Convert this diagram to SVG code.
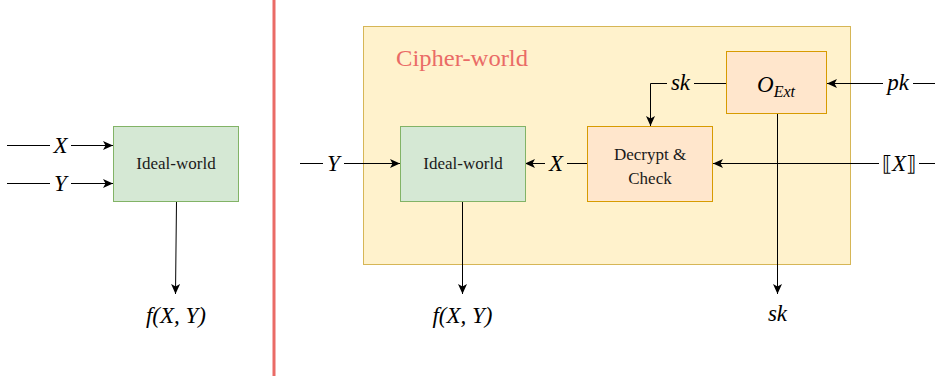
<svg xmlns="http://www.w3.org/2000/svg" width="938" height="378" viewBox="0 0 938 378">
  <style>
    .green { fill: #d5e8d4; stroke: #82b366; stroke-width: 1; }
    .orange { fill: #ffe6cc; stroke: #d79b00; stroke-width: 1; }
    .container { fill: #fff2cc; stroke: #d6b656; stroke-width: 1; }
    .edge { fill: none; stroke: #000; stroke-width: 1; }
    .arrow { marker-end: url(#head); }
    .serif { font-family: "Times New Roman", "Liberation Serif", "Noto Serif", "DejaVu Serif", Tinos, serif; }
    .box-text { font-size: 17px; fill: #1a1a1a; text-anchor: middle; }
    .math { font-style: italic; font-size: 23px; fill: #000; text-anchor: middle; }
    .upright { font-style: normal; }
    .bg-white { fill: #ffffff; }
    .bg-yellow { fill: #fff2cc; }
  </style>
  <defs>
    <marker id="head" markerUnits="userSpaceOnUse" markerWidth="12" markerHeight="10" refX="10" refY="4.5" orient="auto">
      <path d="M0,0 L10,4.5 L0,9 L2.5,4.5 Z" fill="#000"/>
    </marker>
  </defs>

  <rect width="938" height="378" fill="#ffffff"/>

  <!-- divider between the two worlds -->
  <line x1="274" y1="0" x2="274" y2="376" stroke="#ea6b66" stroke-width="3"/>

  <!-- cipher-world container -->
  <g id="cipher-world">
    <rect class="container" x="363.5" y="26.5" width="487" height="238"/>
    <text class="serif" x="396" y="66" font-size="23" fill="#ea6b66" textLength="132" lengthAdjust="spacingAndGlyphs">Cipher-world</text>
  </g>

  <!-- connectors -->
  <g id="connectors">
    <!-- left side inputs -->
    <line class="edge arrow" x1="7" y1="145.5" x2="113" y2="145.5"/>
    <line class="edge arrow" x1="7" y1="183.5" x2="113" y2="183.5"/>
    <!-- left ideal-world output -->
    <line class="edge arrow" x1="176.5" y1="201" x2="175.5" y2="294"/>
    <!-- right Y input -->
    <line class="edge arrow" x1="300" y1="163.5" x2="400" y2="163.5"/>
    <!-- decrypt to ideal-world -->
    <line class="edge arrow" x1="587" y1="163.5" x2="525" y2="163.5"/>
    <!-- right ideal-world output -->
    <line class="edge arrow" x1="462.5" y1="201" x2="462.5" y2="294"/>
    <!-- sk from extractor to decrypt -->
    <polyline class="edge arrow" points="726,83.5 650.5,83.5 650.5,126"/>
    <!-- pk into extractor -->
    <line class="edge arrow" x1="935" y1="83.5" x2="827" y2="83.5"/>
    <!-- ciphertext into decrypt -->
    <line class="edge arrow" x1="935" y1="163.5" x2="713" y2="163.5"/>
    <!-- extractor output sk -->
    <line class="edge arrow" x1="777.5" y1="113" x2="777.5" y2="294"/>

    <!-- edge labels -->
    <rect class="bg-white" x="50" y="133" width="21" height="24"/>
    <text class="serif math" x="60.5" y="153">X</text>
    <rect class="bg-white" x="50" y="171" width="21" height="24"/>
    <text class="serif math" x="60.5" y="191">Y</text>
    <rect class="bg-white" x="323" y="151" width="21" height="24"/>
    <text class="serif math" x="333.5" y="171">Y</text>
    <rect class="bg-yellow" x="545" y="151" width="22" height="24"/>
    <text class="serif math" x="556" y="171">X</text>
    <rect class="bg-yellow" x="667" y="71" width="27" height="24"/>
    <text class="serif math" x="680.5" y="90">sk</text>
    <rect class="bg-white" x="883" y="71" width="30" height="24"/>
    <text class="serif math" x="898" y="90">pk</text>
    <rect class="bg-white" x="879" y="149" width="40" height="28"/>
    <text class="serif math" x="899" y="171"><tspan class="upright" font-size="21">⟦</tspan>X<tspan class="upright" font-size="21">⟧</tspan></text>
  </g>

  <!-- left ideal-world -->
  <g id="ideal-world-left">
    <rect class="green" x="113.5" y="126.5" width="125" height="75"/>
    <text class="serif box-text" x="176" y="169">Ideal-world</text>
  </g>

  <!-- right ideal-world -->
  <g id="ideal-world-right">
    <rect class="green" x="400.5" y="126.5" width="125" height="75"/>
    <text class="serif box-text" x="463" y="169">Ideal-world</text>
  </g>

  <!-- decrypt and check -->
  <g id="decrypt-check">
    <rect class="orange" x="587.5" y="126.5" width="125" height="75"/>
    <text class="serif box-text" x="650" y="160">Decrypt &amp;</text>
    <text class="serif box-text" x="650" y="184">Check</text>
  </g>

  <!-- extractor oracle -->
  <g id="oracle-ext">
    <rect class="orange" x="726.5" y="51.5" width="100" height="62"/>
    <text class="serif math" x="776" y="92" font-size="26">O<tspan font-size="16" dy="5">Ext</tspan></text>
  </g>

  <!-- outputs -->
  <g id="output-left">
    <text class="serif math" x="176" y="323">f(X, Y)</text>
  </g>
  <g id="output-right">
    <text class="serif math" x="462.5" y="323">f(X, Y)</text>
  </g>
  <g id="output-sk">
    <text class="serif math" x="777.5" y="321">sk</text>
  </g>
</svg>
